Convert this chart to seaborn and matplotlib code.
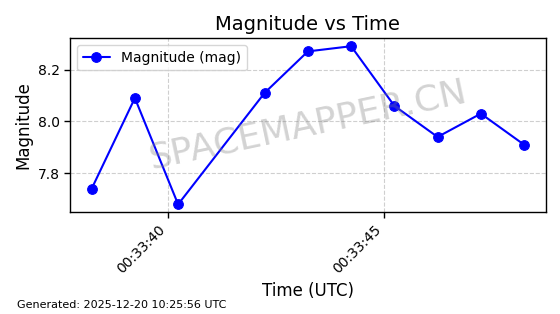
import matplotlib
matplotlib.use("Agg")
import matplotlib.pyplot as plt
import matplotlib.dates as mdates
import seaborn as sns
import pandas as pd

times = ["2025-12-20 00:33:38.23", "2025-12-20 00:33:39.23", "2025-12-20 00:33:40.23",
         "2025-12-20 00:33:42.23", "2025-12-20 00:33:43.23", "2025-12-20 00:33:44.23",
         "2025-12-20 00:33:45.23", "2025-12-20 00:33:46.23", "2025-12-20 00:33:47.23",
         "2025-12-20 00:33:48.23"]
magnitudes = [7.74, 8.09, 7.68, 8.11, 8.27, 8.29, 8.06, 7.94, 8.03, 7.91]

df = pd.DataFrame({"time": pd.to_datetime(times), "mag": magnitudes})

sns.set_style("white")
plt.rcParams['font.family'] = ['DejaVu Sans']
plt.rcParams.update({"text.color": "black", "axes.labelcolor": "black",
                     "xtick.color": "black", "ytick.color": "black"})

fig, ax = plt.subplots(figsize=(5.6, 3.14), dpi=100)
sns.lineplot(data=df, x="time", y="mag", ax=ax, color="blue", marker="o",
             markersize=7, markeredgecolor="blue", linewidth=1.5, label="Magnitude (mag)")

for s in ax.spines.values():
    s.set_color("black")
    s.set_linewidth(1.0)
ax.tick_params(axis="both", which="both", length=4, width=1, color="black",
               labelcolor="black", bottom=True, left=True, labelsize=10)
ax.grid(True, linestyle="--", color="#b0b0b0", alpha=0.6, linewidth=0.8)

ax.xaxis.set_major_locator(mdates.SecondLocator(bysecond=range(0, 60, 5)))
ax.xaxis.set_major_formatter(mdates.DateFormatter("%H:%M:%S"))
plt.setp(ax.get_xticklabels(), rotation=45, ha="right")

ax.set_title("Magnitude vs Time", fontsize=14, color="black")
ax.set_xlabel("Time (UTC)", fontsize=12, color="black")
ax.set_ylabel("Magnitude", fontsize=12, color="black")
ax.set_yticks([7.8, 8.0, 8.2])
leg = ax.legend(loc="upper left", fontsize=10, frameon=True)
for t in leg.get_texts():
    t.set_color("black")

ax.text(0.5, 0.5, "SPACEMAPPER.CN", transform=ax.transAxes, fontsize=26,
        color="gray", alpha=0.35, rotation=12, ha="center", va="center")

fig.text(0.03, 0.02, "Generated: 2025-12-20 10:25:56 UTC", fontsize=8, color="black")

fig.subplots_adjust(left=0.125, right=0.9745, top=0.878, bottom=0.324)
fig.savefig("out.png", dpi=100)
